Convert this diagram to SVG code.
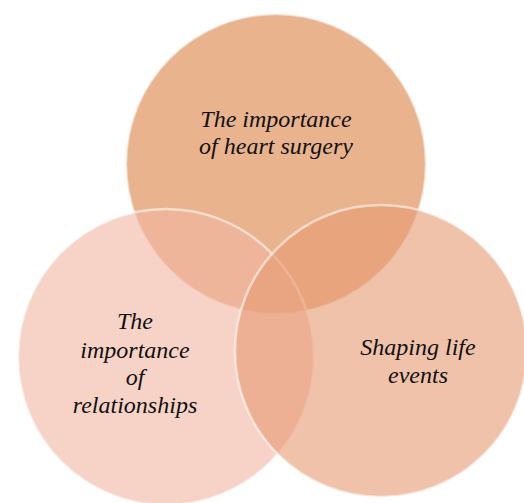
<svg xmlns="http://www.w3.org/2000/svg" width="524" height="503" viewBox="0 0 524 503">
  <style>
    .disc { fill-opacity: 0.6; stroke: #ffffff; stroke-opacity: 0.55; stroke-width: 2.5; }
    .label { font-family: "Liberation Serif", "Times New Roman", serif; font-style: italic; font-size: 24px; fill: #111111; text-anchor: middle; }
  </style>
  <rect width="524" height="503" fill="#ffffff"/>
  <g id="connectors"/>
  <g id="node-heart-surgery">
    <circle class="disc" cx="276" cy="164" r="150" fill="#da8043"/>
    <text class="label" x="276" y="127">The importance</text>
    <text class="label" x="276" y="154">of heart surgery</text>
  </g>
  <g id="node-relationships">
    <circle class="disc" cx="166" cy="357" r="148" fill="#f2b6a2"/>
    <text class="label" x="135" y="329">The</text>
    <text class="label" x="135" y="358">importance</text>
    <text class="label" x="135" y="385">of</text>
    <text class="label" x="135" y="413">relationships</text>
  </g>
  <g id="node-life-events">
    <circle class="disc" cx="381" cy="351" r="146" fill="#e69971"/>
    <text class="label" x="418" y="355">Shaping life</text>
    <text class="label" x="418" y="383">events</text>
  </g>
</svg>
